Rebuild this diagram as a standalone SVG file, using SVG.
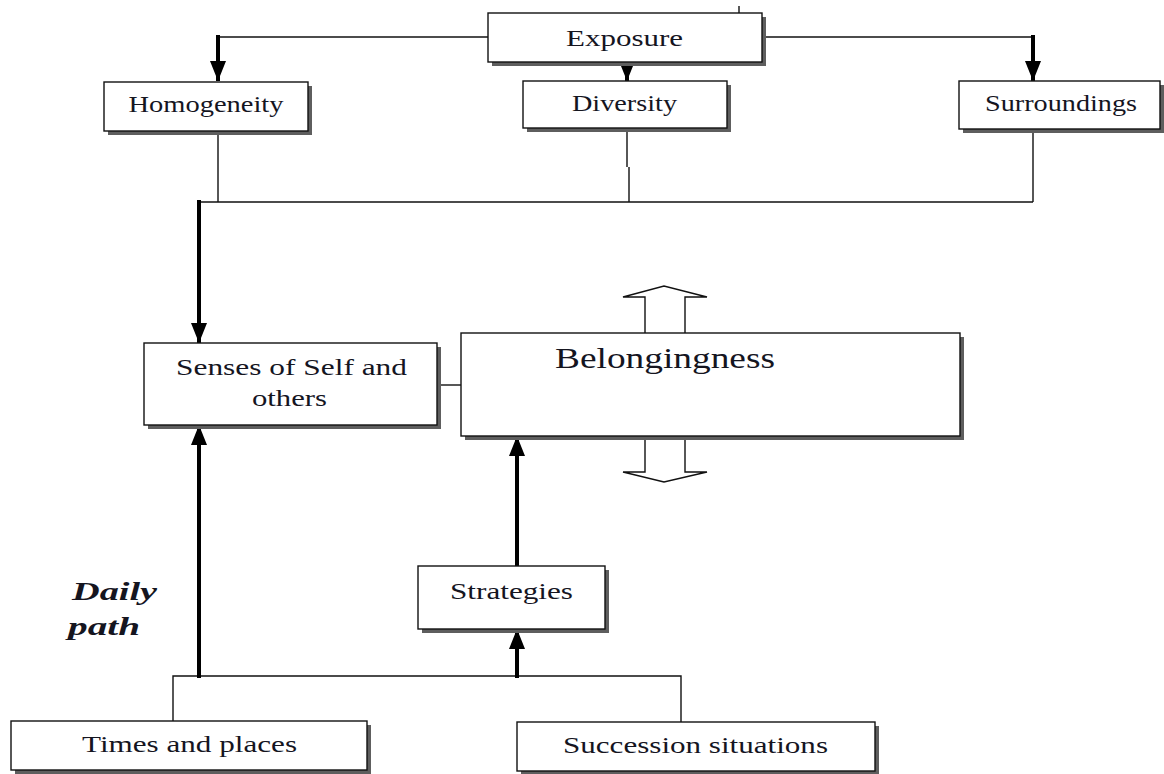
<svg xmlns="http://www.w3.org/2000/svg" width="1164" height="774" viewBox="0 0 1164 774">
<style>
.box{fill:#fff;stroke:#111;stroke-width:1.4}
.sh{fill:#5e5e5e}
.t{font-family:"Liberation Serif","Times New Roman",serif;font-size:24px;fill:#15151f;text-anchor:middle}
.thin{fill:none;stroke:#111;stroke-width:1.4}
.thick{fill:none;stroke:#000;stroke-width:4}
.hol{fill:#fff;stroke:#111;stroke-width:1.4}
</style>
<defs>
<marker id="ah" viewBox="0 0 20 16" refX="20" refY="8" markerWidth="20" markerHeight="16" markerUnits="userSpaceOnUse" orient="auto">
<path d="M0,0 L20,8 L0,16 Z" fill="#000"/>
</marker>
</defs>
<rect width="1164" height="774" fill="#fff"/>

<g id="connectors">
<path class="thin" d="M488,37 H218"/>
<path class="thick" d="M218,35 V81" marker-end="url(#ah)"/>
<path class="thin" d="M762,37 H1033"/>
<path class="thick" d="M1033,35 V81" marker-end="url(#ah)"/>
<path class="thick" d="M627,62 V81" marker-end="url(#ah)"/>
<path class="thin" d="M739,6 V13"/>
<path class="thin" d="M218,131 V202 M627,129 V167 M629,167 V202 M1033,129 V202 M199,202 H1033"/>
<path class="thick" d="M199,200 V343" marker-end="url(#ah)"/>
<path class="thin" d="M437,385 H461"/>
<path class="thin" d="M173,721 V676 H681 V722"/>
<path class="thick" d="M199,678 V425" marker-end="url(#ah)"/>
<path class="thick" d="M517,678 V629" marker-end="url(#ah)"/>
<path class="thick" d="M517,566 V436" marker-end="url(#ah)"/>
<polygon class="hol" points="645,334 645,297 623,297 664,286 707,297 685,297 685,334"/>
<polygon class="hol" points="645,436 645,472 623,472 664,482 707,472 685,472 685,436"/>
</g>

<g id="exposure">
<rect class="sh" x="492" y="17" width="274" height="49"/>
<rect class="box" x="488" y="13" width="274" height="49"/>
<text class="t" x="624.5" y="46" textLength="117" lengthAdjust="spacingAndGlyphs">Exposure</text>
</g>
<g id="homogeneity">
<rect class="sh" x="108" y="86" width="204" height="49"/>
<rect class="box" x="104" y="82" width="204" height="49"/>
<text class="t" x="206" y="112" textLength="155" lengthAdjust="spacingAndGlyphs">Homogeneity</text>
</g>
<g id="diversity">
<rect class="sh" x="527" y="85" width="204" height="47"/>
<rect class="box" x="523" y="81" width="204" height="47"/>
<text class="t" x="624.5" y="111" textLength="105" lengthAdjust="spacingAndGlyphs">Diversity</text>
</g>
<g id="surroundings">
<rect class="sh" x="963" y="85" width="201" height="48"/>
<rect class="box" x="959" y="81" width="201" height="48"/>
<text class="t" x="1061" y="111" textLength="152" lengthAdjust="spacingAndGlyphs">Surroundings</text>
</g>
<g id="senses">
<rect class="sh" x="148" y="347" width="293" height="82"/>
<rect class="box" x="144" y="343" width="293" height="82"/>
<text class="t" x="291.5" y="375" textLength="231" lengthAdjust="spacingAndGlyphs">Senses of Self and</text>
<text class="t" x="289.5" y="406" textLength="75" lengthAdjust="spacingAndGlyphs">others</text>
</g>
<g id="belongingness">
<rect class="sh" x="465" y="337" width="499" height="103"/>
<rect class="box" x="461" y="333" width="499" height="103"/>
<text class="t" x="665" y="368" style="font-size:29px" textLength="220" lengthAdjust="spacingAndGlyphs">Belongingness</text>
</g>
<g id="strategies">
<rect class="sh" x="422" y="570" width="187" height="63"/>
<rect class="box" x="418" y="566" width="187" height="63"/>
<text class="t" x="511.5" y="599" textLength="123" lengthAdjust="spacingAndGlyphs">Strategies</text>
</g>
<g id="daily-path">
<text class="t" x="114.5" y="600" style="font-size:26px;font-weight:bold;font-style:italic" textLength="85" lengthAdjust="spacingAndGlyphs">Daily</text>
<text class="t" x="104" y="635" style="font-size:26px;font-weight:bold;font-style:italic" textLength="72" lengthAdjust="spacingAndGlyphs">path</text>
</g>
<g id="times-places">
<rect class="sh" x="15" y="725" width="356" height="49"/>
<rect class="box" x="11" y="721" width="356" height="49"/>
<text class="t" x="189.5" y="752" textLength="215" lengthAdjust="spacingAndGlyphs">Times and places</text>
</g>
<g id="succession">
<rect class="sh" x="521" y="726" width="358" height="48"/>
<rect class="box" x="517" y="722" width="358" height="49"/>
<text class="t" x="695.5" y="753" textLength="265" lengthAdjust="spacingAndGlyphs">Succession situations</text>
</g>
</svg>
